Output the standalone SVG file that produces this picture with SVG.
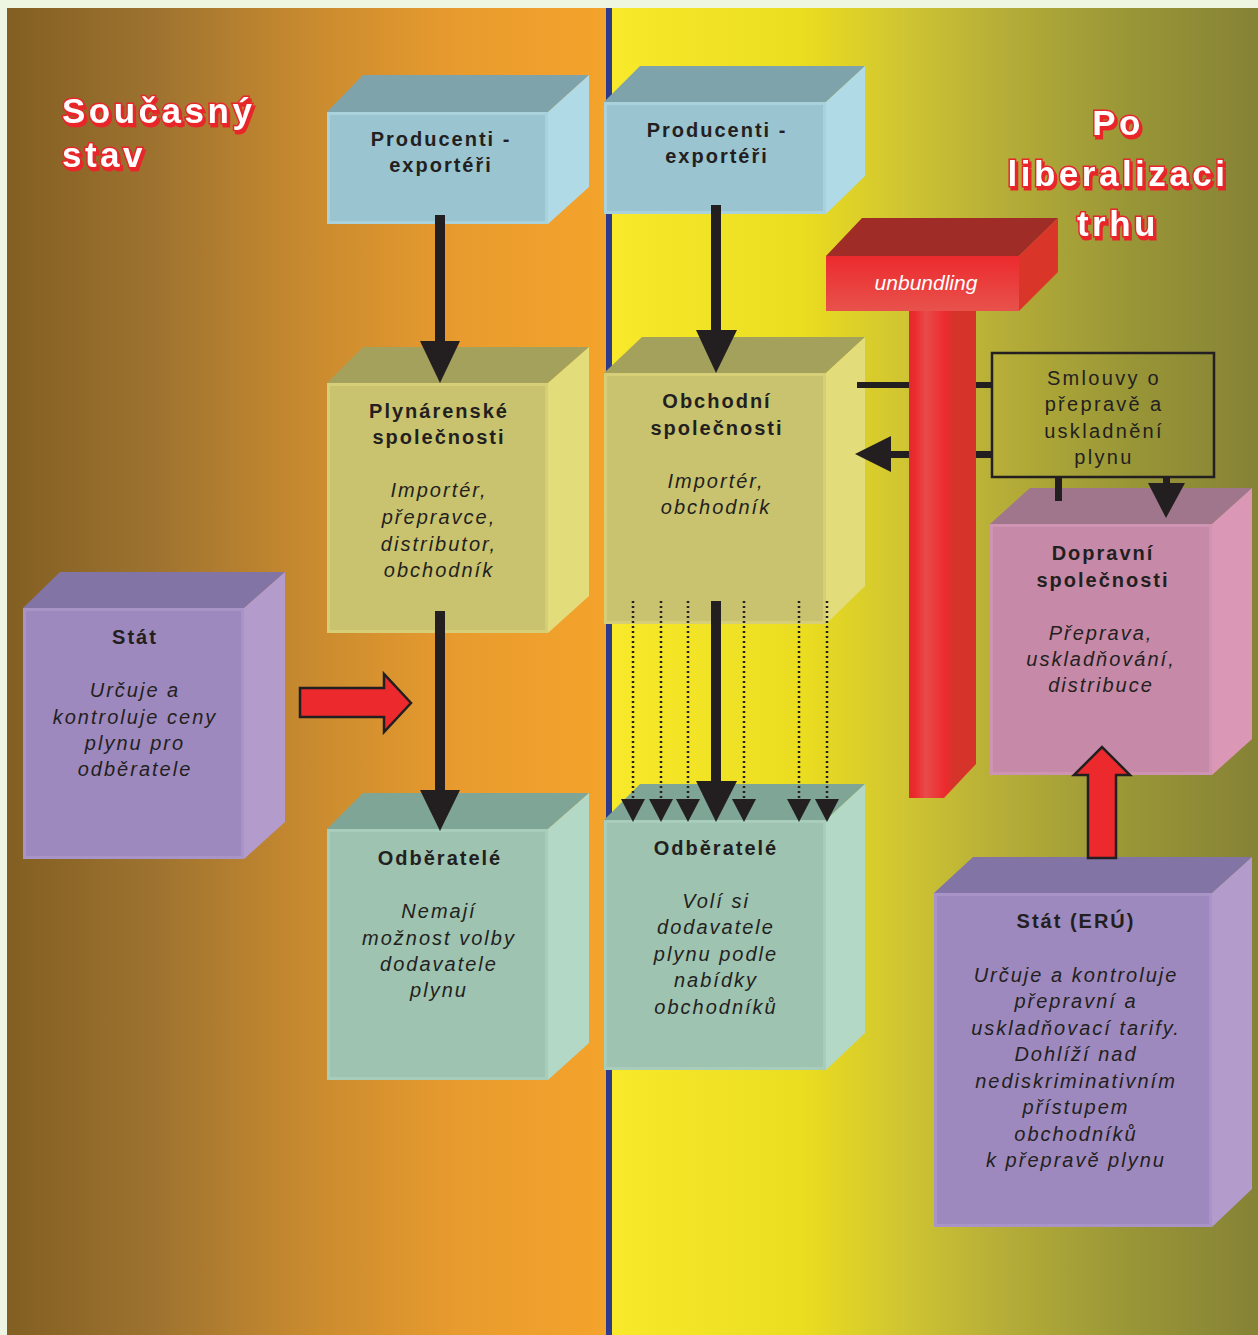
<svg xmlns="http://www.w3.org/2000/svg" width="1258" height="1335" viewBox="0 0 1258 1335">
<defs>
<linearGradient id="bgL" x1="7" y1="0" x2="606" y2="0" gradientUnits="userSpaceOnUse">
<stop offset="0" stop-color="#825F22"/><stop offset="0.25" stop-color="#9E7330"/><stop offset="0.5" stop-color="#C88A2F"/><stop offset="0.75" stop-color="#E89B2E"/><stop offset="1" stop-color="#F4A32B"/>
</linearGradient>
<linearGradient id="bgR" x1="612" y1="0" x2="1258" y2="0" gradientUnits="userSpaceOnUse">
<stop offset="0" stop-color="#F8EA2A"/><stop offset="0.3" stop-color="#EADC1F"/><stop offset="0.45" stop-color="#D0C532"/><stop offset="0.6" stop-color="#B6AE38"/><stop offset="0.8" stop-color="#999637"/><stop offset="1" stop-color="#868236"/>
</linearGradient>
<linearGradient id="pillar" x1="909" y1="0" x2="976" y2="0" gradientUnits="userSpaceOnUse">
<stop offset="0" stop-color="#E02A2E"/><stop offset="0.09" stop-color="#EC2A2E"/><stop offset="0.25" stop-color="#E84B4B"/><stop offset="0.4" stop-color="#EA3A3A"/><stop offset="0.55" stop-color="#EC2A2E"/><stop offset="0.66" stop-color="#D6342A"/><stop offset="1" stop-color="#D6342A"/>
</linearGradient>
<linearGradient id="unbFront" x1="0" y1="256" x2="0" y2="311" gradientUnits="userSpaceOnUse">
<stop offset="0" stop-color="#EC2A2E"/><stop offset="1" stop-color="#E8524C"/>
</linearGradient>
<filter id="redShadow" x="-10%" y="-20%" width="130%" height="150%">
<feDropShadow dx="2" dy="3" stdDeviation="0" flood-color="#E8262B"/>
</filter>
<style>
.title{font-family:"Liberation Sans",Arial,sans-serif;font-weight:bold;font-size:35px;fill:#FFFFFF;stroke:#E8262B;stroke-width:3;paint-order:stroke;letter-spacing:3.5px}
.hd{font-family:"Liberation Sans",Arial,sans-serif;font-weight:bold;font-size:20px;fill:#231F20;letter-spacing:2px;text-anchor:middle}
.it{font-family:"Liberation Sans",Arial,sans-serif;font-style:italic;font-size:20px;fill:#231F20;letter-spacing:2px;text-anchor:middle}
.rg{font-family:"Liberation Sans",Arial,sans-serif;font-size:20px;fill:#231F20;letter-spacing:2.3px;text-anchor:middle}
.blue .front{fill:#9AC4D0;stroke:#A9D2DC;stroke-width:3}
.blue .top{fill:#7EA3AB}
.blue .side{fill:#B0DAE6}
.olive .front{fill:#C9C36F;stroke:#D6CF78;stroke-width:3}
.olive .top{fill:#A4A15C}
.olive .side{fill:#E3DC7A}
.green .front{fill:#9EC3B1;stroke:#A9CDBB;stroke-width:3}
.green .top{fill:#7EA595}
.green .side{fill:#B3D8C5}
.violet .front{fill:#9E89BE;stroke:#A994C8;stroke-width:3}
.violet .top{fill:#8274A5}
.violet .side{fill:#B39BCB}
.pink .front{fill:#C68AA8;stroke:#CF94B1;stroke-width:3}
.pink .top{fill:#A0768C}
.pink .side{fill:#DB98B6}
.blk{fill:#231F20}
.red{fill:#EC2A2E;stroke:#231F20;stroke-width:2.5}
.dot{stroke:#231F20;stroke-width:2.5;stroke-dasharray:2 3;fill:none}
</style>
</defs>

<g id="background">
<rect x="0" y="0" width="1258" height="1335" fill="#EEF5E0"/>
<rect x="7" y="8" width="600" height="1327" fill="url(#bgL)"/>
<rect x="611" y="8" width="647" height="1327" fill="url(#bgR)"/>
<rect x="606" y="8" width="6" height="1327" fill="#2E3A8C"/>
</g>

<g id="titles" filter="url(#redShadow)">
<text class="title" x="62" y="123">Současný</text>
<text class="title" x="62" y="167">stav</text>
<text class="title" x="1118" y="135" text-anchor="middle">Po</text>
<text class="title" x="1118" y="186" text-anchor="middle">liberalizaci</text>
<text class="title" x="1118" y="236" text-anchor="middle">trhu</text>
</g>

<g id="producenti-left" class="blue">
<polygon class="top" points="327,112 363,75 589,75 548,112"/>
<polygon class="side" points="548,112 589,75 589,187 548,224"/>
<rect class="front" x="328.5" y="113.5" width="218" height="109"/>
<text class="hd" x="441" y="146">Producenti -</text>
<text class="hd" x="441" y="172">exportéři</text>
</g>

<g id="producenti-right" class="blue">
<polygon class="top" points="604,102 640,66 865,66 826,102"/>
<polygon class="side" points="826,102 865,66 865,176 826,214"/>
<rect class="front" x="605.5" y="103.5" width="219" height="109"/>
<text class="hd" x="717" y="137">Producenti -</text>
<text class="hd" x="717" y="163">exportéři</text>
</g>

<g id="plynarenske" class="olive">
<polygon class="top" points="327,383 363,347 589,347 548,383"/>
<polygon class="side" points="548,383 589,347 589,596 548,633"/>
<rect class="front" x="328.5" y="384.5" width="218" height="247"/>
<text class="hd" x="439" y="418">Plynárenské</text>
<text class="hd" x="439" y="444">společnosti</text>
<text class="it" x="439" y="497">Importér,</text>
<text class="it" x="439" y="524">přepravce,</text>
<text class="it" x="439" y="551">distributor,</text>
<text class="it" x="439" y="577">obchodník</text>
</g>

<g id="obchodni" class="olive">
<polygon class="top" points="604,373 642,337 865,337 826,373"/>
<polygon class="side" points="826,373 865,337 865,586 826,624"/>
<rect class="front" x="605.5" y="374.5" width="219" height="248"/>
<text class="hd" x="717" y="408">Obchodní</text>
<text class="hd" x="717" y="435">společnosti</text>
<text class="it" x="716" y="488">Importér,</text>
<text class="it" x="716" y="514">obchodník</text>
</g>

<g id="odberatele-left" class="green">
<polygon class="top" points="327,829 363,793 589,793 548,829"/>
<polygon class="side" points="548,829 589,793 589,1043 548,1080"/>
<rect class="front" x="328.5" y="830.5" width="218" height="248"/>
<text class="hd" x="440" y="865">Odběratelé</text>
<text class="it" x="439" y="918">Nemají</text>
<text class="it" x="439" y="945">možnost volby</text>
<text class="it" x="439" y="971">dodavatele</text>
<text class="it" x="439" y="997">plynu</text>
</g>

<g id="odberatele-right" class="green">
<polygon class="top" points="604,820 640,784 865,784 826,820"/>
<polygon class="side" points="826,820 865,784 865,1033 826,1070"/>
<rect class="front" x="605.5" y="821.5" width="219" height="247"/>
<text class="hd" x="716" y="855">Odběratelé</text>
<text class="it" x="716" y="908">Volí si</text>
<text class="it" x="716" y="934">dodavatele</text>
<text class="it" x="716" y="961">plynu podle</text>
<text class="it" x="716" y="987">nabídky</text>
<text class="it" x="716" y="1014">obchodníků</text>
</g>

<g id="stat-left" class="violet">
<polygon class="top" points="23,608 60,572 285,572 244,608"/>
<polygon class="side" points="244,608 285,572 285,822 244,859"/>
<rect class="front" x="24.5" y="609.5" width="218" height="248"/>
<text class="hd" x="135" y="644">Stát</text>
<text class="it" x="135" y="697">Určuje a</text>
<text class="it" x="135" y="724">kontroluje ceny</text>
<text class="it" x="135" y="750">plynu pro</text>
<text class="it" x="135" y="776">odběratele</text>
</g>

<g id="dopravni" class="pink">
<polygon class="top" points="990,524 1030,488 1252,488 1212,524"/>
<polygon class="side" points="1212,524 1252,488 1252,739 1212,775"/>
<rect class="front" x="991.5" y="525.5" width="219" height="248"/>
<text class="hd" x="1103" y="560">Dopravní</text>
<text class="hd" x="1103" y="587">společnosti</text>
<text class="it" x="1101" y="640">Přeprava,</text>
<text class="it" x="1101" y="666">uskladňování,</text>
<text class="it" x="1101" y="692">distribuce</text>
</g>

<g id="stat-eru" class="violet">
<polygon class="top" points="934,893 973,857 1252,857 1212,893"/>
<polygon class="side" points="1212,893 1252,857 1252,1189 1212,1227"/>
<rect class="front" x="935.5" y="894.5" width="275" height="331"/>
<text class="hd" x="1076" y="928">Stát (ERÚ)</text>
<text class="it" x="1076" y="982">Určuje a kontroluje</text>
<text class="it" x="1076" y="1008">přepravní a</text>
<text class="it" x="1076" y="1035">uskladňovací tarify.</text>
<text class="it" x="1076" y="1061">Dohlíží nad</text>
<text class="it" x="1076" y="1088">nediskriminativním</text>
<text class="it" x="1076" y="1114">přístupem</text>
<text class="it" x="1076" y="1141">obchodníků</text>
<text class="it" x="1076" y="1167">k přepravě plynu</text>
</g>

<g id="smlouvy">
<rect x="992" y="353" width="222" height="124" fill="none" stroke="#231F20" stroke-width="2.5"/>
<text class="rg" x="1104" y="385">Smlouvy o</text>
<text class="rg" x="1104" y="411">přepravě a</text>
<text class="rg" x="1104" y="438">uskladnění</text>
<text class="rg" x="1104" y="464">plynu</text>
</g>

<g id="connectors">
<rect class="blk" x="435" y="215" width="10" height="130"/>
<polygon class="blk" points="420,341 460,341 440,383"/>
<rect class="blk" x="435" y="611" width="10" height="185"/>
<polygon class="blk" points="420,790 460,790 440,831"/>
<rect class="blk" x="711" y="205" width="10" height="130"/>
<polygon class="blk" points="696,330 737,330 716,373"/>
<rect class="blk" x="711" y="601" width="10" height="185"/>
<polygon class="blk" points="696,781 737,781 716,822"/>
<line class="dot" x1="633" y1="601" x2="633" y2="800"/>
<polygon class="blk" points="621,799 645,799 633,822"/>
<line class="dot" x1="661" y1="601" x2="661" y2="800"/>
<polygon class="blk" points="649,799 673,799 661,822"/>
<line class="dot" x1="688" y1="601" x2="688" y2="800"/>
<polygon class="blk" points="676,799 700,799 688,822"/>
<line class="dot" x1="744" y1="601" x2="744" y2="800"/>
<polygon class="blk" points="732,799 756,799 744,822"/>
<line class="dot" x1="799" y1="601" x2="799" y2="800"/>
<polygon class="blk" points="787,799 811,799 799,822"/>
<line class="dot" x1="827" y1="601" x2="827" y2="800"/>
<polygon class="blk" points="815,799 839,799 827,822"/>
<rect class="blk" x="857" y="382" width="52" height="6"/>
<rect class="blk" x="975" y="382" width="17" height="6"/>
<rect class="blk" x="975" y="451" width="17" height="7"/>
<rect class="blk" x="888" y="451" width="21" height="7"/>
<polygon class="blk" points="855,454 891,436 891,472"/>
<rect class="blk" x="1055" y="477" width="7" height="24"/>
<rect class="blk" x="1163" y="477" width="7" height="8"/>
<polygon class="blk" points="1148,483 1185,483 1166,518"/>
<polygon class="red" points="300,688 384,688 384,674 411,703 384,732 384,717 300,717"/>
<polygon class="red" points="1088,858 1088,775 1074,775 1102,747 1130,775 1116,775 1116,858"/>
</g>

<g id="unbundling">
<polygon fill="url(#pillar)" points="909,311 976,311 976,764 944,798 909,798"/>
<polygon fill="#A02C28" points="826,256 862,218 1058,218 1019,256"/>
<polygon fill="#DA3529" points="1019,256 1058,218 1058,272 1019,311"/>
<rect x="826" y="256" width="193" height="55" fill="url(#unbFront)"/>
<text x="926" y="290" text-anchor="middle" font-family="'Liberation Sans',Arial,sans-serif" font-style="italic" font-size="21" fill="#FFFFFF">unbundling</text>
</g>
</svg>
